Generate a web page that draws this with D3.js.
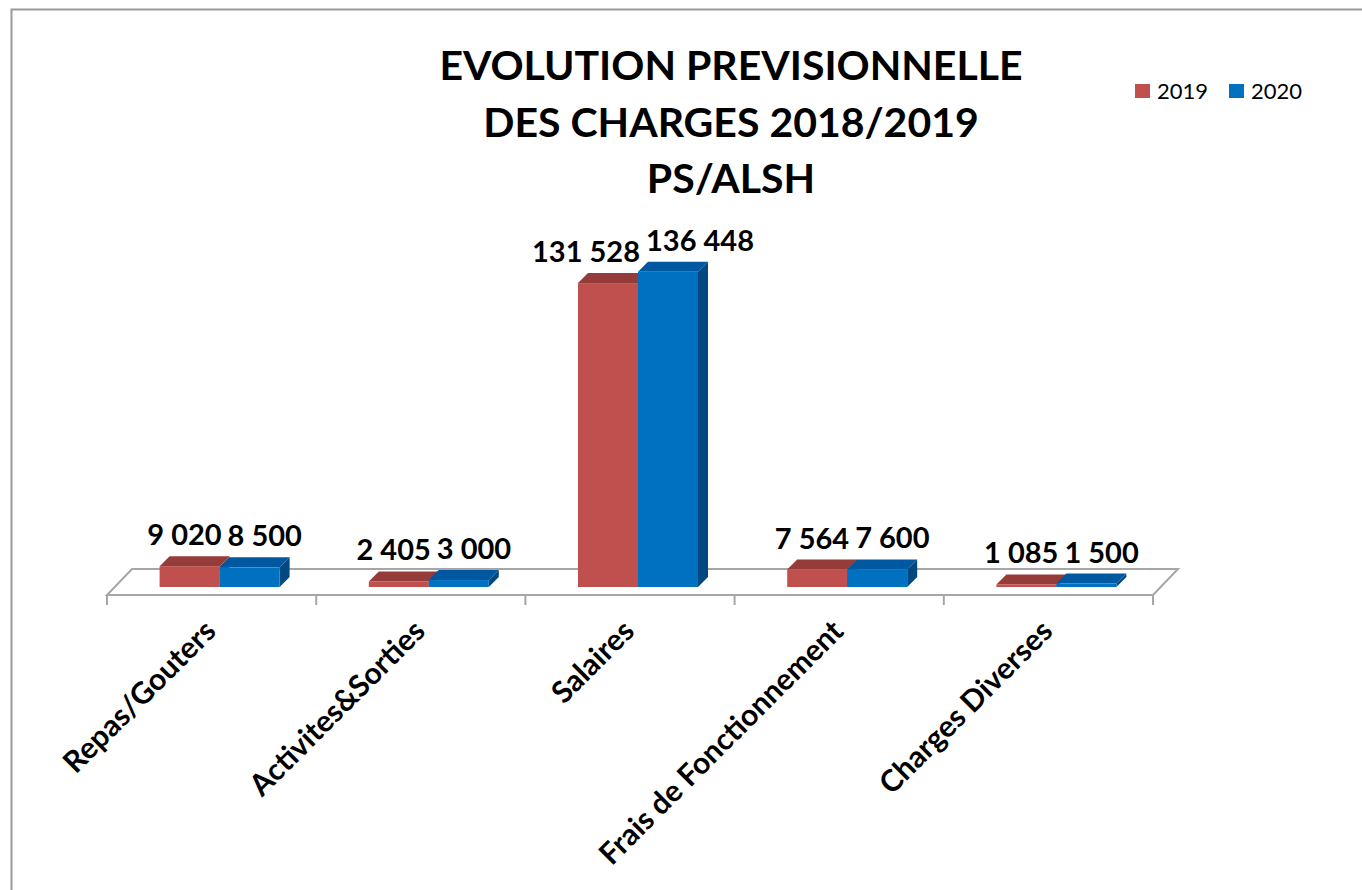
<!DOCTYPE html>
<html>
<head>
<meta charset="utf-8">
<script src="https://cdn.jsdelivr.net/npm/d3@7"></script>
<style>
  body { margin: 0; background: #fff; }
  svg { display: block; font-family: Lato, "Open Sans", sans-serif; }
</style>
</head>
<body>
<svg></svg>
<script>
// data
const categories = ["Repas/Gouters", "Activites&Sorties", "Salaires", "Frais de Fonctionnement", "Charges Diverses"];
const seriesNames = ["2019", "2020"];
const values2019 = [9020, 2405, 131528, 7564, 1085];
const values2020 = [8500, 3000, 136448, 7600, 1500];
const titleLines = ["EVOLUTION PREVISIONNELLE", "DES CHARGES 2018/2019", "PS/ALSH"];

const width = 1362, height = 890;
const svg = d3.select("svg").attr("width", width).attr("height", height);

// colours: front, top, side
const colors = {
  "2019": { front: "#C0504D", top: "#953B39", side: "#8C3836" },
  "2020": { front: "#0070C0", top: "#0058A0", side: "#00487F" }
};

// frame
svg.append("rect")
  .attr("x", 11.5).attr("y", 9.5)
  .attr("width", width + 20).attr("height", height + 20)
  .attr("fill", "none").attr("stroke", "#9a9a9a").attr("stroke-width", 2);

// floor geometry
const floorY = 595;
const floorDx = 25, floorDy = -26;
const barOff = 8;       // bar front offset into the floor
const barDepth = 10;    // bar thickness

const x = d3.scaleBand().domain(categories).range([107, 1153]);
const xs = d3.scaleBand().domain(seriesNames).range([0, 120]);
const y = d3.scaleLinear().domain([0, 140000]).range([0, 323.5]);

const x0 = x.range()[0], x1 = x.range()[1];

// floor
svg.append("path")
  .attr("d", `M${x0},${floorY} L${x1},${floorY} L${x1 + floorDx},${floorY + floorDy} L${x0 + floorDx},${floorY + floorDy} Z`)
  .attr("fill", "#fff").attr("stroke", "#a6a6a6").attr("stroke-width", 2);

// axis ticks
const tickXs = categories.map(c => x(c)).concat([x1]);
svg.append("g").selectAll("line")
  .data(tickXs).enter().append("line")
  .attr("x1", d => d).attr("x2", d => d)
  .attr("y1", floorY).attr("y2", floorY + 10)
  .attr("stroke", "#a6a6a6").attr("stroke-width", 2);

// bars
const bars = [];
categories.forEach((c, i) => {
  [values2019[i], values2020[i]].forEach((v, s) => {
    const name = seriesNames[s];
    const left = x(c) + x.bandwidth() / 2 + barOff - xs.range()[1] / 2 + xs(name);
    bars.push({ cat: c, name: name, v: v, left: left, w: xs.bandwidth(),
                base: floorY - barOff, top: floorY - barOff - y(v) });
  });
});

const gb = svg.append("g");
bars.forEach(b => {
  const col = colors[b.name];
  const g = gb.append("g");
  // side
  g.append("path")
    .attr("d", `M${b.left + b.w},${b.top} L${b.left + b.w + barDepth},${b.top - barDepth} L${b.left + b.w + barDepth},${b.base - barDepth} L${b.left + b.w},${b.base} Z`)
    .attr("fill", col.side);
  // top
  g.append("path")
    .attr("d", `M${b.left},${b.top} L${b.left + barDepth},${b.top - barDepth} L${b.left + b.w + barDepth},${b.top - barDepth} L${b.left + b.w},${b.top} Z`)
    .attr("fill", col.top);
  // front
  g.append("rect")
    .attr("x", b.left).attr("y", b.top)
    .attr("width", b.w).attr("height", b.base - b.top)
    .attr("fill", col.front);
});

// value labels
const fmt = v => d3.format(",")(v).replace(/,/g, " ");
const gl = svg.append("g");
categories.forEach(c => {
  const pair = bars.filter(b => b.cat === c).map(b => {
    const t = gl.append("text")
      .attr("font-size", 29).attr("font-weight", "bold").attr("fill", "#000")
      .attr("text-anchor", "middle")
      .attr("x", b.left + b.w / 2 + barDepth / 2)
      .attr("y", b.top - barDepth - 11)
      .text(fmt(b.v));
    return { t: t, cx: b.left + b.w / 2 + barDepth / 2, w: t.node().getComputedTextLength() };
  });
  // push overlapping labels apart
  const gap = 6;
  const overlap = (pair[0].cx + pair[0].w / 2) - (pair[1].cx - pair[1].w / 2) + gap;
  if (overlap > 0) {
    pair[0].t.attr("x", pair[0].cx - overlap / 2);
    pair[1].t.attr("x", pair[1].cx + overlap / 2);
  }
});

// category labels
svg.append("g").selectAll("text")
  .data(categories).enter().append("text")
  .attr("transform", d => `translate(${x(d) + x.bandwidth() / 2 + 6},${floorY + 38}) rotate(-45)`)
  .attr("text-anchor", "end")
  .attr("font-size", 30).attr("font-weight", "bold").attr("fill", "#000")
  .text(d => d);

// title
svg.append("g").selectAll("text")
  .data(titleLines).enter().append("text")
  .attr("x", 731).attr("y", (d, i) => 80 + i * 56.5)
  .attr("text-anchor", "middle")
  .attr("font-size", 41).attr("font-weight", "bold").attr("fill", "#000")
  .text(d => d);

// legend
const legend = svg.append("g").attr("transform", "translate(1135,84)");
const li = legend.selectAll("g").data(seriesNames).enter().append("g")
  .attr("transform", (d, i) => `translate(${i * 94},0)`);
li.append("rect").attr("width", 15).attr("height", 14).attr("fill", d => colors[d].front);
li.append("text").attr("x", 22).attr("y", 15).attr("font-size", 22).attr("fill", "#000").text(d => d);
</script>
</body>
</html>
